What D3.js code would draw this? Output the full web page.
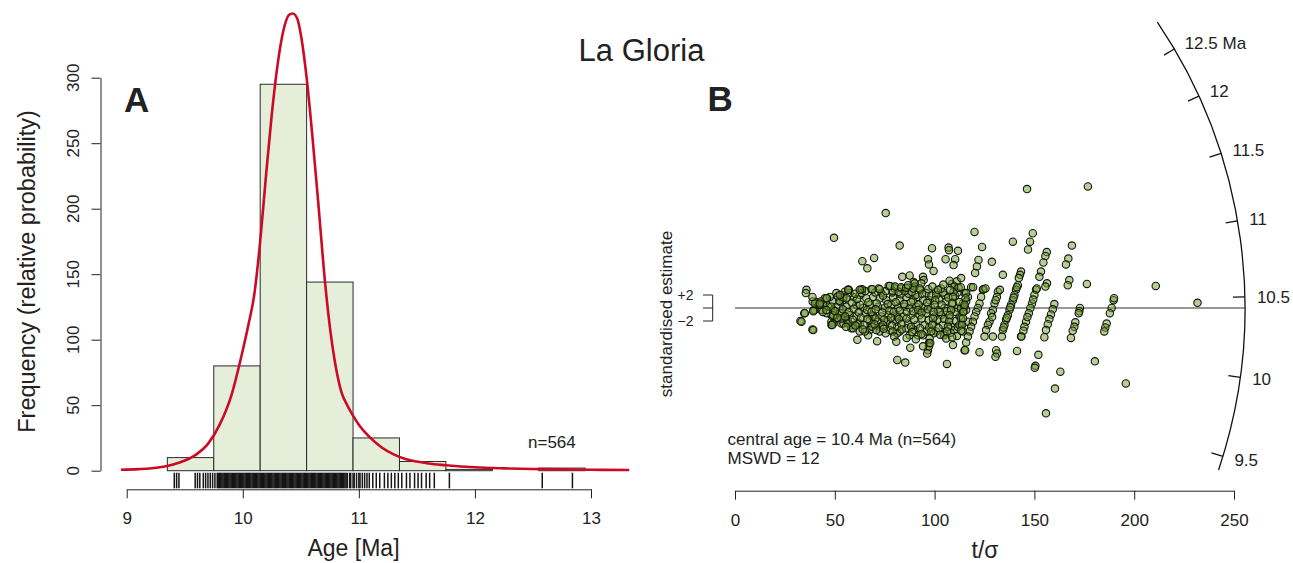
<!DOCTYPE html>
<html>
<head>
<meta charset="utf-8">
<script src="https://cdn.jsdelivr.net/npm/d3@7"></script>
<style>
  html, body { margin: 0; padding: 0; background: #fff; }
  svg { display: block; font-family: "Liberation Sans", Arial, Helvetica, sans-serif; }
</style>
</head>
<body>
<svg id="chart" width="1293" height="563"></svg>
<script>
// ---------------- Panel A: age histogram, density curve and rug ----------------
const binEdges = [9.35, 9.75, 10.15, 10.55, 10.95, 11.35, 11.75, 12.15, 12.55, 12.95];
const binCounts = [10, 80, 295, 144, 25, 7, 1, 0, 2];
const freqTicks = [0, 50, 100, 150, 200, 250, 300];
const ageTicks = [9, 10, 11, 12, 13];

// probability density (scaled to frequency units)
const kdeAges = [8.95, 9.1, 9.2, 9.3, 9.4, 9.5, 9.6, 9.7, 9.8, 9.9, 10.0, 10.05, 10.1, 10.15, 10.2, 10.25,
  10.3, 10.35, 10.4, 10.43, 10.47, 10.5, 10.55, 10.6, 10.65, 10.7, 10.75, 10.8, 10.85, 10.9, 10.95,
  11.0, 11.1, 11.2, 11.3, 11.4, 11.5, 11.6, 11.75, 12.0, 12.25, 12.5, 12.75, 13.0, 13.33];
const kdeValues = [0.7, 1.2, 1.7, 2.8, 4.8, 7.8, 12.5, 20.5, 35, 57, 92, 112, 135, 175, 225, 272,
  310, 336, 348, 349, 345, 333, 300, 255, 205, 152, 110, 80, 60, 50, 42,
  35, 25, 17.5, 12.5, 9, 7, 5.5, 4.2, 2.6, 1.8, 1.3, 1.0, 0.7, 0.5];

const rugAges = [9.41, 9.43, 9.45, 9.59, 9.61, 9.63, 9.66, 9.68, 9.70, 9.72, 9.74, 9.76, 9.78, 9.79, 9.80,
  9.81, 9.82, 9.83, 9.84, 9.85, 9.86, 9.87, 9.88, 9.89, 9.90,
  9.91, 9.92, 9.93, 9.94, 9.95, 9.96, 9.97, 9.98, 9.99, 10.00,
  10.01, 10.02, 10.03, 10.04, 10.05, 10.06, 10.07, 10.08, 10.09, 10.10,
  10.11, 10.12, 10.13, 10.14, 10.15, 10.16, 10.17, 10.18, 10.19, 10.20,
  10.21, 10.22, 10.23, 10.24, 10.25, 10.26, 10.27, 10.28, 10.29, 10.30,
  10.31, 10.32, 10.33, 10.34, 10.35, 10.36, 10.37, 10.38, 10.39, 10.40,
  10.41, 10.42, 10.43, 10.44, 10.45, 10.46, 10.47, 10.48, 10.49, 10.50,
  10.51, 10.52, 10.53, 10.54, 10.55, 10.56, 10.57, 10.58, 10.59, 10.60,
  10.61, 10.62, 10.63, 10.64, 10.65, 10.66, 10.67, 10.68, 10.69, 10.70,
  10.71, 10.72, 10.73, 10.74, 10.75, 10.76, 10.77, 10.78, 10.79, 10.80,
  10.81, 10.82, 10.83, 10.84, 10.85, 10.86, 10.87, 10.88, 10.89,
  10.90, 10.92, 10.93, 10.95, 10.96, 10.98, 11.00, 11.01, 11.03, 11.05, 11.07, 11.09,
  11.12, 11.15, 11.18, 11.22, 11.25, 11.28, 11.31, 11.34, 11.37, 11.41, 11.44, 11.48,
  11.51, 11.54, 11.58, 11.61, 11.65, 11.78, 12.58, 12.84];

// ---------------- Panel B: radial plot ----------------
const centralAge = 10.43;
const mswd = 12;
const radialTicks = [9.5, 10, 10.5, 11, 11.5, 12, 12.5];
const precisionTicks = [0, 50, 100, 150, 200, 250];

// [t/sigma, standardised estimate]
const upperPoints = [
  [75.5,14.6],[146.3,18.3],[176.8,18.7],[120.0,11.7],[149.2,11.5],[49.6,10.8],
  [82.5,9.6],[98.7,9.2],[107.0,9.3],[107.2,8.9],[111.7,8.8],[63.8,7.2],[69.7,7.7],[66.3,6.1],
  [96.7,7.5],[97.2,6.7],[105.5,7.5],[110.3,7.5],[109.5,6.6],[99.5,5.7],
  [83.8,4.8],[87.5,5.0],[94.2,4.8],[94.5,4.3],[93.3,3.8],[107.5,4.2],[113.3,4.6],[89.5,4.0],[90.0,3.3],[77.0,3.4],[112.0,3.1],
  [147.8,10.2],[146.8,9.0],[139.2,10.2],[123.8,9.4],[168.8,9.6],
  [156.2,8.6],[155.5,8.0],[154.5,7.0],[167.0,7.6],[165.8,6.7],
  [122.0,7.4],[121.2,6.4],[120.3,5.4],[128.7,7.1],[134.2,5.1],
  [143.3,5.6],[142.8,5.1],[142.2,4.6],[153.3,5.6],[152.5,4.8],
  [118.3,3.2],[124.5,2.9],[176.3,3.7],[167.5,4.3],[166.7,3.5],[156.3,3.8],[155.5,3.3],[151.2,3.0],
  [210.8,3.4],[231.7,0.8],
  [101.7,2.8],[113.1,3.2],[119.3,3.2],[125.5,3.0],[132.7,2.8],[77.7,3.4],[80.2,3.3],[83.2,3.2],[85.7,3.1],
  [89.4,3.0],[92.5,3.0],[57.0,2.8],[63.7,2.9],[68.8,2.9],[35.8,2.8],[86.7,3.5],[90.0,3.8],[107.8,2.8],
  [52.5,2.0],[56.7,2.8],[62.5,2.8],[72.5,2.9]
];

const stripePoints = [
  [141.7,3.5],[140.8,2.8],[140.0,2.0],[139.2,1.2],[138.3,0.5],[137.5,-0.3],[136.7,-1.1],[135.8,-1.8],[135.0,-2.6],[134.2,-3.4],[133.7,-4.4],
  [141.2,3.2],[139.6,1.6],[137.9,0.1],[136.2,-1.5],[134.6,-3.0],
  [150.8,2.8],[150.0,2.0],[148.8,0.7],[148.0,0.0],[147.2,-0.8],[145.8,-2.1],[145.0,-2.9],[144.5,-3.5],[143.5,-4.4],[149.4,1.3],[146.5,-1.4],
  [131.7,2.5],[131.2,1.7],[130.0,0.7],[129.2,-0.3],[128.3,-0.8],[127.5,-2.1],[126.7,-2.6],[125.8,-3.4],[125.0,-4.4],[130.6,1.2],[128.8,-1.4],
  [124.2,2.8],[123.3,1.7],[122.5,0.7],[121.7,0.0],[120.8,-0.6],[120.0,-1.3],[119.2,-2.1],[118.3,-2.9],[117.5,-3.6],[116.7,-4.4],[115.8,-5.3],[115.0,-6.5],
  [116.7,1.7],[115.8,1.0],[115.0,0.2],[114.2,-0.6],[113.3,-1.6],[112.5,-2.6],
  [160.0,0.6],[159.2,-0.2],[158.3,-1.0],[157.5,-1.7],[156.7,-2.5],[155.8,-3.4],[155.0,-4.5],
  [172.8,0.0],[172.5,-0.5],[172.2,-0.8],
  [170.5,-2.2],[170.0,-2.9],[169.2,-3.5],[168.3,-4.6],
  [189.7,1.2],[188.7,0.0],[187.8,-0.8],[189.9,1.5],
  [186.2,-2.4],[185.5,-3.0],[185.0,-3.6],
  [100.8,2.0],[100.3,1.2],[100.0,0.5],[99.5,-0.6],[99.2,-1.6],[98.8,-2.6],[98.3,-3.6],[97.5,-4.7],[97.2,-5.4],[96.7,-6.5],
  [110.0,3.3],[109.5,2.5],[109.2,1.7],[108.7,0.7],[108.2,-0.3],[107.5,-1.1],[107.2,-2.1],[106.7,-2.9],[106.2,-3.6],[105.8,-4.7],
  [115.8,2.3],[115.5,1.5],[115.0,0.5],[114.5,-0.6],[114.2,-1.6],[113.8,-2.6],[113.3,-3.5]
];

const lowerPoints = [
  [130.8,-6.5],[131.3,-7.0],[130.5,-7.5],[122.5,-6.8],[115.3,-6.5],[141.3,-6.6],[152.0,-7.2],[150.5,-8.9],[150.2,-9.2],
  [163.0,-9.8],[180.3,-8.2],[160.3,-12.4],[195.8,-11.6],[155.8,-16.2],
  [35.5,2.3],[38.8,1.7],[45.8,1.5],[42.5,0.7],[35.0,-0.8],[33.3,-2.1],[39.2,-0.5],[39.2,-3.4],[48.7,-2.6],
  [61.3,-4.9],[71.2,-5.1],[80.8,-5.2],[87.8,-6.1],[96.3,-7.0],[81.3,-8.0],[85.3,-8.4],[106.2,-8.6],[109.2,-5.7],
  [108.8,-4.5],[97.2,-5.9],[97.8,-5.4],[94.2,-5.9]
];

const clusterPoints = [
  [56.7,2.8],[63.3,2.8],[68.3,2.9],[73.3,2.3],[80.0,3.0],[83.3,3.0],[86.7,3.1],[92.8,2.8],[95.8,2.3],[100.8,2.5],[105.0,2.0],[110.3,1.9],[115.0,2.3],
  [45.0,1.5],[49.2,1.0],[53.3,2.0],[54.2,1.2],[59.2,1.7],[62.5,2.0],[65.8,1.5],[69.2,1.7],[72.5,1.5],[75.8,1.2],[79.2,1.7],[82.5,1.2],
  [85.8,1.7],[89.2,1.2],[91.7,1.7],[94.2,1.2],[97.5,1.2],[105.8,1.0],[109.2,0.7],[114.2,0.7],
  [46.7,0.2],[50.8,0.2],[55.8,0.2],[60.8,0.5],[64.2,0.0],[67.5,0.5],[71.7,0.2],[75.0,0.0],[78.3,0.5],[81.7,0.0],[85.0,0.2],
  [87.5,0.0],[90.8,0.2],[94.2,0.0],[98.3,0.0],[101.7,-0.3],[105.0,0.0],[108.3,-0.3],[111.7,0.0],[115.8,-0.3],
  [48.3,-1.1],[52.5,-0.8],[57.5,-1.1],[60.8,-1.3],[65.0,-0.8],[69.2,-1.1],[73.3,-1.3],[76.7,-1.1],[80.8,-1.1],[84.2,-1.3],
  [88.3,-1.1],[92.5,-1.1],[95.8,-0.8],[100.0,-1.3],[103.3,-1.1],[107.5,-1.6],[112.5,-1.3],
  [53.3,-2.4],[58.3,-2.6],[62.5,-2.4],[67.5,-1.9],[71.7,-2.1],[76.7,-1.9],[80.8,-2.1],[86.7,-2.4],[90.8,-2.6],[95.0,-2.6],
  [99.2,-2.4],[104.2,-2.6],[108.3,-2.9],[113.3,-2.6],[116.7,-2.1],
  [58.3,-3.1],[68.3,-2.9],[72.5,-2.9],[85.8,-3.1],[90.0,-3.4],[95.8,-3.6],[100.8,-3.6],[105.0,-3.9],[110.0,-3.4],[114.2,-3.6],
  [91.7,-4.2],[87.5,-4.2],[82.5,-3.6],[77.5,-3.4],[72.5,-3.6],[67.5,-3.4],[62.5,-3.6],[66.7,-4.2],
  [40.8,0.9],[44.2,0.5],[43.3,-0.3],[49.2,-0.3],[45.8,-0.8],[50.8,-1.6],[55.8,-1.9],[48.3,-2.1],[52.5,1.0],[55.0,2.5],[50.8,2.3],[47.5,1.7],
  [43.0,1.0],[46.1,1.5],[48.2,0.2],[52.3,1.1],[54.3,1.6],[57.4,2.3],[39.9,-0.3],[44.0,-0.6],[49.2,-1.3],[53.3,-0.8],[56.4,-1.9],
  [49.2,-2.4],[54.3,-2.4],[61.6,-2.4],[68.8,-2.9],[62.6,0.5],[38.9,1.0],[42.0,0.5],[68.8,-1.3],[76.0,-2.1],[81.2,-2.9],[81.2,-1.3],
  [32.8,-2.0],[34.7,-0.8],[39.2,-0.4],[38.8,-3.3],[48.3,-2.6],[94.2,-4.2],[99.7,-3.9],[104.7,-4.2],[129.2,-4.4],[143.3,-4.4],
  [81.3,-3.9],[75.5,-3.9],[70.8,-3.4],[65.0,-3.6],[59.2,-3.1],[56.7,-2.4],[53.3,-1.6],[49.2,-1.1],[45.8,-0.3],[42.5,0.5],[40.0,0.7],
  [51.5,1.8],[56.0,1.5],[58.5,0.8],[61.2,1.4],[63.5,2.3],[66.8,0.9],[70.2,2.4],[71.0,0.7],[74.2,1.9],[76.5,0.6],[78.8,2.4],
  [80.5,0.9],[83.0,2.1],[84.7,0.6],[87.0,2.2],[88.3,0.9],[90.5,2.0],[92.0,0.5],[93.7,2.2],[96.2,0.8],[98.4,1.9],[102.3,1.3],
  [103.5,0.5],[104.2,2.4],[106.8,1.6],[111.5,2.4],[112.4,0.9],
  [50.1,-0.5],[54.0,-0.2],[57.0,-0.6],[59.5,-0.1],[62.0,-0.7],[66.2,-0.3],[68.4,-0.6],[70.5,-0.2],[73.8,-0.7],[77.3,-0.4],
  [79.5,-0.6],[82.6,-0.4],[86.1,-0.6],[89.2,-0.5],[91.8,-0.3],[93.5,-0.7],[96.6,-0.2],[102.5,-0.6],[106.2,-0.5],[110.5,-0.6],[113.2,-0.1],
  [51.3,-1.5],[55.2,-1.3],[59.0,-1.8],[63.1,-1.5],[66.3,-1.7],[70.4,-1.6],[74.7,-1.8],[78.2,-1.5],[82.1,-1.7],[86.0,-1.6],
  [89.8,-1.8],[93.6,-1.6],[97.0,-1.9],[101.4,-1.8],[104.9,-1.7],[110.8,-2.0],
  [55.6,-2.9],[60.3,-2.7],[64.4,-2.6],[69.9,-2.5],[74.1,-2.6],[78.6,-2.7],[83.4,-2.5],[88.2,-2.9],[92.7,-3.1],[97.3,-3.0],
  [102.0,-3.1],[111.6,-2.9],
  [64.0,-3.3],[74.5,-3.2],[79.0,-3.6],[83.5,-3.3],[88.8,-3.7],[93.4,-4.0],[102.8,-4.1],[108.0,-3.8],[111.2,-4.3],[86.0,-4.6],
  [90.6,-4.8],[79.8,-4.4],
  [60.1,2.2],[65.2,2.6],[71.9,3.0],[75.6,2.6],[79.0,2.6],[82.0,2.5],[85.0,2.6],[88.6,2.5],[96.8,2.9],[98.9,3.3],[103.2,3.0],
  [104.4,3.6],[108.6,3.7],[111.1,4.1]
];

// ---------------- drawing ----------------
const svg = d3.select("#chart");
const ink = "#222";
const nTotal = d3.sum(binCounts);

function label(g, x, y, txt, opts = {}) {
  const t = g.append("text")
    .attr("transform", `translate(${x},${y})` + (opts.rotate ? ` rotate(${opts.rotate})` : ""))
    .attr("text-anchor", opts.anchor || "start")
    .attr("font-size", opts.size || 17)
    .attr("fill", opts.fill || ink)
    .text(txt);
  if (opts.weight) t.attr("font-weight", opts.weight);
  if (opts.dy) t.attr("dy", opts.dy);
  return t;
}

function styleAxis(g, size) {
  g.select(".domain").attr("stroke", ink).attr("stroke-width", 1);
  g.selectAll(".tick line").attr("stroke", ink).attr("stroke-width", 1);
  g.selectAll(".tick text").attr("fill", ink).attr("font-size", size)
    .attr("font-family", "'Liberation Sans', Arial, Helvetica, sans-serif");
}

// title
label(svg, 641.5, 60.5, "La Gloria", { anchor: "middle", size: 31 });

// ---- Panel A ----
const xAge = d3.scaleLinear().domain([9, 13]).range([126.7, 591]);
const yFreq = d3.scaleLinear().domain([0, 300]).range([470.7, 77.7]);
const gA = svg.append("g");

const bins = binCounts.map((c, i) => ({ x0: binEdges[i], x1: binEdges[i + 1], c }));
gA.append("g").selectAll("rect").data(bins).join("rect")
  .attr("x", d => xAge(d.x0))
  .attr("width", d => xAge(d.x1) - xAge(d.x0))
  .attr("y", d => yFreq(d.c))
  .attr("height", d => yFreq(0) - yFreq(d.c))
  .attr("fill", "#e4eed8")
  .attr("stroke", "#2a2a2a")
  .attr("stroke-width", 1);

gA.append("path")
  .datum(kdeAges.map((a, i) => [a, kdeValues[i]]))
  .attr("fill", "none")
  .attr("stroke", "#cc0a26")
  .attr("stroke-width", 2.6)
  .attr("d", d3.line().x(d => xAge(d[0])).y(d => yFreq(d[1])).curve(d3.curveMonotoneX));

gA.append("g").selectAll("line").data(rugAges).join("line")
  .attr("x1", d => xAge(d)).attr("x2", d => xAge(d))
  .attr("y1", 472.7).attr("y2", 488.3)
  .attr("stroke", "#151515").attr("stroke-width", 1.5);

const gyA = gA.append("g").attr("transform", "translate(100.5,0)")
  .call(d3.axisLeft(yFreq).tickValues(freqTicks).tickSize(9).tickSizeOuter(0).tickFormat(""));
styleAxis(gyA, 17);
freqTicks.forEach(v => label(gA, 79, yFreq(v), String(v), { anchor: "middle", rotate: -90 }));

const gxA = gA.append("g").attr("transform", "translate(0,489.3)")
  .call(d3.axisBottom(xAge).tickValues(ageTicks).tickSize(9).tickSizeOuter(0).tickPadding(14).tickFormat(d3.format("d")));
styleAxis(gxA, 17);

label(gA, 353.5, 556, "Age [Ma]", { anchor: "middle", size: 23 });
label(gA, 35, 271.5, "Frequency (relative probability)", { anchor: "middle", size: 23.5, rotate: -90 });
label(gA, 528, 448, "n=" + nTotal, { size: 17 });
label(gA, 124, 111.5, "A", { size: 35, weight: "bold" });

// ---- Panel B ----
const xT = d3.scaleLinear().domain([0, 250]).range([735, 1234]);
const yZ = d3.scaleLinear().domain([-20, 20]).range([438, 178]);
const gB = svg.append("g");
const cx = xT(0), cy = yZ(0);
const ratio = (yZ(0) - yZ(1)) / (xT(1) - xT(0));
const R = 510;
const angleOf = t => Math.atan(ratio * Math.log(t / centralAge));
const [minAge, maxAge] = d3.extent(rugAges);

// radial scale arc
const arcPath = d3.path();
const a0 = angleOf(minAge), a1 = angleOf(maxAge);
arcPath.moveTo(cx + R * Math.cos(a0), cy - R * Math.sin(a0));
arcPath.arc(cx, cy, R, -a0, -a1, true);
gB.append("path").attr("d", arcPath.toString())
  .attr("fill", "none").attr("stroke", "#111").attr("stroke-width", 1.3);

radialTicks.forEach((t, i) => {
  const a = angleOf(t);
  gB.append("line")
    .attr("x1", cx + (R - 12) * Math.cos(a)).attr("y1", cy - (R - 12) * Math.sin(a))
    .attr("x2", cx + R * Math.cos(a)).attr("y2", cy - R * Math.sin(a))
    .attr("stroke", "#111").attr("stroke-width", 1.3);
  const txt = i === radialTicks.length - 1 ? t + " Ma" : String(t);
  label(gB, cx + (R + 12) * Math.cos(a), cy - (R + 12) * Math.sin(a), txt, { size: 17, dy: "0.35em" });
});

// central age line
gB.append("line")
  .attr("x1", cx).attr("y1", cy)
  .attr("x2", cx + R * Math.cos(angleOf(centralAge))).attr("y2", cy - R * Math.sin(angleOf(centralAge)))
  .attr("stroke", "#333").attr("stroke-width", 1.1);

// points
const allPoints = [].concat(clusterPoints, stripePoints, upperPoints, lowerPoints);
gB.append("g").selectAll("circle").data(allPoints).join("circle")
  .attr("cx", d => xT(d[0]))
  .attr("cy", d => yZ(d[1]))
  .attr("r", 3.7)
  .attr("fill", "#6e9f28")
  .attr("fill-opacity", 0.5)
  .attr("stroke", "#141414")
  .attr("stroke-width", 1.1);

// ±2 bracket
const bx = 712.7;
gB.append("path")
  .attr("d", `M${bx - 9.7},${yZ(2)}H${bx}V${yZ(-2)}H${bx - 9.7}M${bx - 9.7},${yZ(0)}H${bx}`)
  .attr("fill", "none").attr("stroke", ink).attr("stroke-width", 1);
label(gB, 693.5, yZ(2), "+2", { anchor: "end", size: 14, dy: "0.35em" });
label(gB, 693.5, yZ(-2), "\u22122", { anchor: "end", size: 14, dy: "0.35em" });
label(gB, 671.5, 314, "standardised estimate", { anchor: "middle", size: 17, rotate: -90 });

const gxB = gB.append("g").attr("transform", "translate(0,490.7)")
  .call(d3.axisBottom(xT).tickValues(precisionTicks).tickSize(9).tickSizeOuter(0).tickPadding(14));
styleAxis(gxB, 17);
label(gB, 985, 558, "t/\u03c3", { anchor: "middle", size: 23 });

label(gB, 727.5, 444.5, `central age = ${d3.format(".1f")(centralAge)} Ma (n=${nTotal})`, { size: 17 });
label(gB, 727.5, 464, `MSWD = ${mswd}`, { size: 17 });
label(gB, 707.5, 110.7, "B", { size: 35, weight: "bold" });
</script>
</body>
</html>
